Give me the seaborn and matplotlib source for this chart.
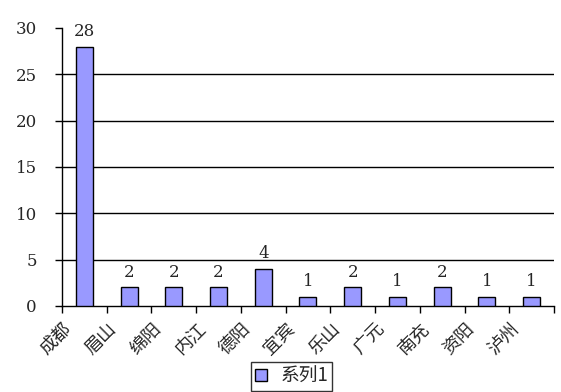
import matplotlib
matplotlib.use("Agg")
import matplotlib.pyplot as plt
import matplotlib.transforms as mtransforms
import seaborn as sns
import pandas as pd
import numpy as np

cities = ["成都", "眉山", "绵阳", "内江", "德阳", "宜宾", "乐山", "广元", "南充", "资阳", "泸州"]
counts = [28, 2, 2, 2, 4, 1, 2, 1, 2, 1, 1]
series_name = "系列1"
y_ticks = [0, 5, 10, 15, 20, 25, 30]

sns.set_style("white")
plt.rcParams["font.family"] = ["Noto Sans CJK SC", "DejaVu Sans"]
num_family = ["DejaVu Serif"]

df = pd.DataFrame({"city": cities, "count": counts, "series": series_name})

fig = plt.figure(figsize=(5.61, 3.92), dpi=100)
ax = fig.add_axes([0.1105, 0.2194, 0.877, 0.7092])

sns.barplot(data=df, x="city", y="count", hue="series", palette=["#9999FF"],
            width=0.38, edgecolor="black", linewidth=1.0, saturation=1,
            ax=ax, legend=True, zorder=3)

ax.set_xlim(-0.5, len(cities) - 0.5)
ax.set_ylim(0, 30)
ax.set_yticks(y_ticks)
ax.set_xlabel("")
ax.set_ylabel("")

# horizontal gridlines at every y tick except the top
for v in y_ticks[1:-1]:
    ax.axhline(v, color="black", linewidth=1.0, zorder=1)

for side in ["top", "right"]:
    ax.spines[side].set_visible(False)
for side in ["left", "bottom"]:
    ax.spines[side].set_color("black")
    ax.spines[side].set_linewidth(1.0)

ax.tick_params(axis="y", which="major", direction="out", length=5, width=1,
               color="black", pad=13, left=True)
for t in ax.get_yticklabels():
    t.set_fontfamily(num_family)
    t.set_fontsize(12)

# tick marks on category boundaries
ax.set_xticks(np.arange(-0.5, len(cities), 1.0), minor=True)
ax.tick_params(axis="x", which="minor", direction="out", length=5, width=1,
               color="black", bottom=True)
ax.tick_params(axis="x", which="major", length=0, pad=10)
ax.set_xticks(range(len(cities)))
ax.set_xticklabels(cities, rotation=45, ha="right", rotation_mode="anchor",
                   fontsize=13)
shift = mtransforms.ScaledTranslation(-22 / 100, 0, fig.dpi_scale_trans)
for t in ax.get_xticklabels():
    t.set_transform(t.get_transform() + shift)

for c in ax.containers:
    ax.bar_label(c, labels=[str(v) for v in counts], padding=5,
                 fontfamily=num_family, fontsize=12)

leg = ax.legend(loc="center", bbox_to_anchor=(0.52, 0.04),
                bbox_transform=fig.transFigure, frameon=True, fancybox=False,
                edgecolor="black", fontsize=13.5, handlelength=0.65, handleheight=0.65,
                borderpad=0.2, handletextpad=0.7, borderaxespad=0)
leg.get_frame().set_linewidth(1.0)

fig.savefig("out.png", dpi=100)
